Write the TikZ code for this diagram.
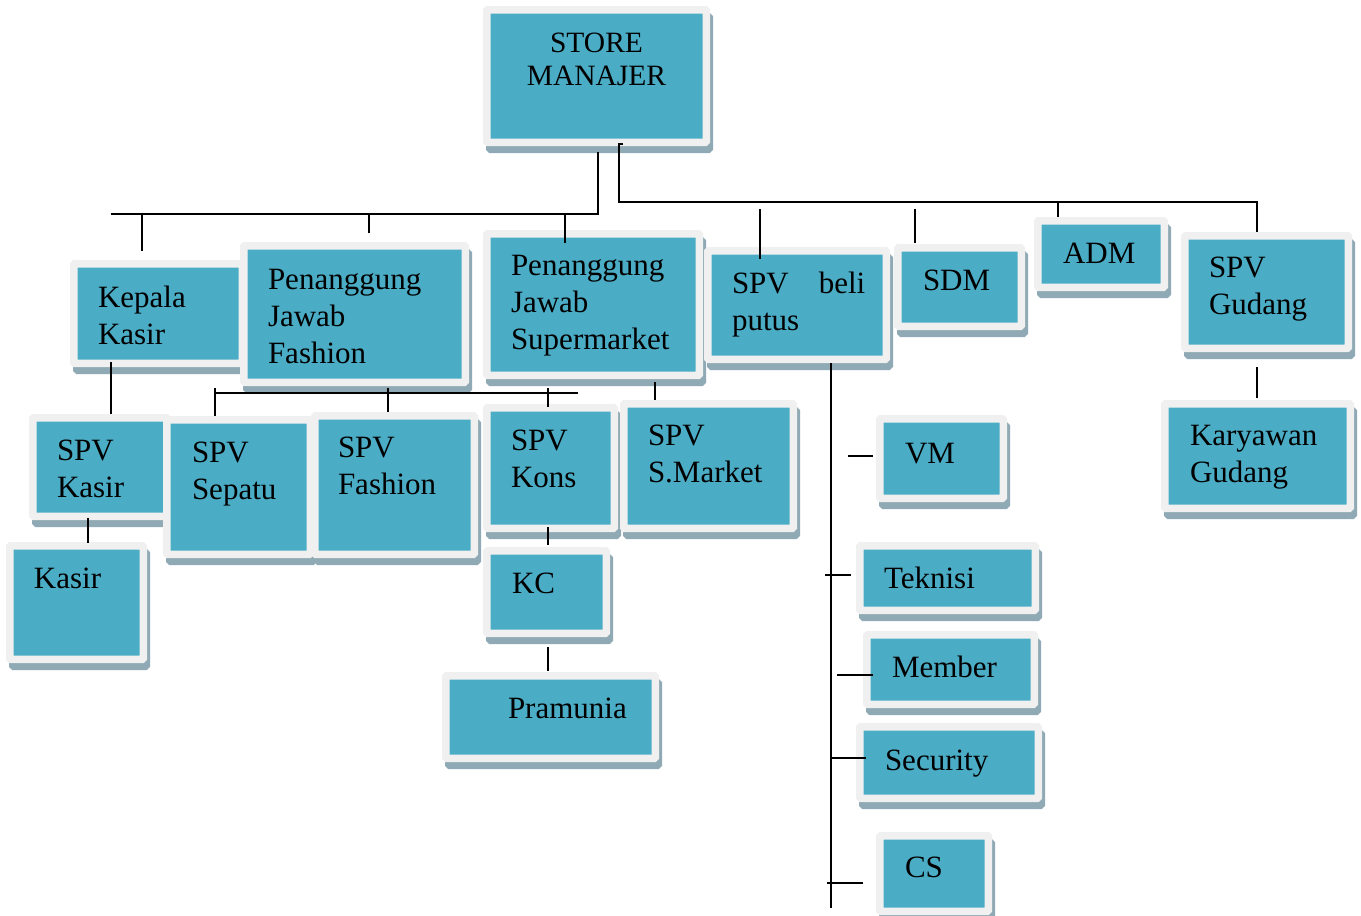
\documentclass[tikz,border=0pt]{standalone}
\usepackage{fontspec}
\setmainfont{Liberation Serif}

\definecolor{unitblue}{RGB}{75,172,198}
\definecolor{unitframe}{RGB}{240,240,240}
\definecolor{unitshadow}{RGB}{143,170,180}

\tikzset{
  unit/.style={fill=unitblue, draw=unitframe, line width=7.5pt, rounded corners=1pt,
    preaction={draw=unitshadow, fill=unitshadow, transform canvas={shift={(3pt,-7pt)}}},
    inner ysep=0pt, align=left, anchor=north west,
    font=\fontsize{31}{37}\selectfont},
  link/.style={line width=2pt, black}
}

\begin{document}
\begin{tikzpicture}[x=1pt, y=-1pt]

    \useasboundingbox (0,0) rectangle (1361,916);

    % options, name, outer box (left top right bottom), text left, first baseline, text
    \def\orgunit#1#2#3#4#5#6#7#8#9{%
        \pgfmathsetmacro\upad{#7-#3-3.75}%
        \pgfmathsetmacro\uwide{#5-#3-7.5-2*\upad}%
        \pgfmathsetmacro\uhigh{#8-#4-3.75}%
        \pgfmathsetmacro\ulow{#6-#8-3.75}%
        \node[unit, #1, inner xsep=\upad pt, text width=\uwide pt,
            text height=\uhigh pt, text depth=\ulow pt] (#2) at (#3,#4) {#9};}

    \orgunit{align=center, font=\fontsize{29.5}{33}\selectfont}{manajer}{483}{6}{710}{146}{491}{52}{STORE\\MANAJER}

    \orgunit{}{kepala}{70}{260}{246}{367}{98}{307}{Kepala\\Kasir}
    \orgunit{}{pjfashion}{240}{242}{469}{386}{268}{289}{Penanggung\\Jawab\\Fashion}
    \orgunit{}{pjsuper}{483}{230}{703}{379}{511}{275}{Penanggung\\Jawab\\Supermarket}
    \orgunit{}{beli}{704}{247}{890}{363}{732}{293}{\mbox{SPV\hspace{30pt}beli}\\putus}
    \orgunit{}{sdm}{894}{244}{1025}{330}{923}{290}{SDM}
    \orgunit{}{adm}{1034}{217}{1168}{291}{1063}{263}{ADM}
    \orgunit{}{spvgudang}{1181}{232}{1352}{352}{1209}{277}{SPV\\Gudang}

    \orgunit{}{spvkasir}{29}{414}{171}{520}{57}{460}{SPV\\Kasir}
    \orgunit{}{kasir}{6}{542}{147}{663}{34}{588}{Kasir}
    \orgunit{}{spvsepatu}{163}{416}{314}{558}{192}{462}{SPV\\Sepatu}
    \orgunit{}{spvfashion}{311}{412}{478}{558}{338}{457}{SPV\\Fashion}
    \orgunit{}{spvkons}{483}{404}{618}{532}{511}{450}{SPV\\Kons}
    \orgunit{}{spvmarket}{620}{400}{797}{532}{648}{445}{SPV\\S.Market}
    \orgunit{}{kc}{483}{547}{610}{637}{512}{593}{KC}
    \orgunit{}{pramunia}{442}{672}{659}{762}{508}{718}{Pramunia}

    \orgunit{}{vm}{876}{415}{1007}{502}{905}{463}{VM}
    \orgunit{}{karyawan}{1161}{400}{1354}{512}{1190}{445}{Karyawan\\Gudang}
    \orgunit{}{teknisi}{856}{542}{1039}{614}{884}{588}{Teknisi}
    \orgunit{}{member}{863}{631}{1038}{708}{892}{677}{Member}
    \orgunit{}{security}{856}{723}{1042}{802}{885}{770}{Security}
    \orgunit{}{cs}{876}{832}{992}{915}{905}{877}{CS}

    \coordinate (busL) at (111,214);
    \coordinate (busR) at (1257,202);
    \coordinate (busM) at (578,393);

    % left branch of the store manager
    \draw[link] (manajer.south) ++(1.5,6) |- (busL);
    \draw[link] ([xshift=-16]kepala.north) ++(0,-9) |- (busL);
    \draw[link] ([xshift=14.5]pjfashion.north) ++(0,-9) |- (busL);
    \draw[link] ([xshift=-28]pjsuper.north) ++(0,13) |- (busL);

    % right branch
    \draw[link] ([xshift=26.5]manajer.south) ++(0,-2) -- ++(-4,0) |- (busR) -- (busR |- spvgudang.north);
    \draw[link] ([xshift=-37]beli.north) ++(0,12) -- ++(0,-50);
    \draw[link] ([xshift=-44.5]sdm.north) ++(0,-1) -- ++(0,-34);
    \draw[link] ([xshift=-43]adm.north) |- (busR);

    % second level
    \draw[link] ([xshift=-23.5]spvsepatu.north) -- ++(0,-28) ++(0,5) -- (busM);
    \draw[link] ([xshift=-6.5]spvfashion.north) -- ++(0,-24);
    \draw[link] ([xshift=-2.5]spvkons.north) ++(0,3) -- ++(0,-19);
    \draw[link] ([xshift=62]pjsuper.south) ++(0,3) -- ++(0,18);
    \draw[link] ([xshift=-47]kepala.south) ++(0,-5) -- ++(0,52);
    \draw[link] ([xshift=-12]spvkasir.south) ++(0,-2) -- ++(0,25);
    \draw[link] ([xshift=-2.5]spvkons.south) ++(0,-5) -- ++(0,18);
    \draw[link] ([xshift=1.5]kc.south) ++(0,10) -- ++(0,24);
    \draw[link] ([xshift=-9.5]spvgudang.south) ++(0,15) -- ++(0,31);

    % staff under SPV beli putus
    \draw[link] ([xshift=34]beli.south) -- ++(0,545);
    \draw[link] (vm.west) ++(-3,-2.5) -- ++(-25,0);
    \draw[link] (teknisi.west) ++(-5,-3) -- ++(-26,0);
    \draw[link] (member.west) ++(10,5.5) -- ++(-36,0);
    \draw[link] (security.west) ++(10,-4.5) -- ++(-35,0);
    \draw[link] (cs.west) ++(-13,9.5) -- ++(-36,0);

\end{tikzpicture}
\end{document}
